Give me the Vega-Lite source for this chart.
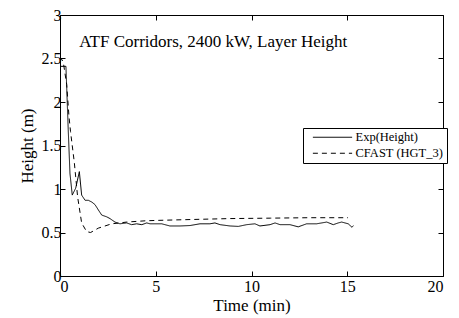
{
  "$schema": "https://vega.github.io/schema/vega-lite/v6.json",
  "autosize": {"type": "none"},
  "padding": {"left": 60, "top": 15, "right": 16, "bottom": 42},
  "width": 383,
  "height": 261,
  "background": "white",
  "config": {
    "view": {"stroke": "black", "strokeWidth": 1},
    "font": "Liberation Serif",
    "axis": {
      "domain": false,
      "grid": false,
      "ticks": true,
      "tickColor": "black",
      "tickSize": -5,
      "labelFont": "Liberation Serif",
      "labelFontSize": 16,
      "labelColor": "black",
      "labelExpr": "'' + datum.value",
      "titleFont": "Liberation Serif",
      "titleFontSize": 17,
      "titleFontWeight": "normal",
      "titleColor": "black"
    }
  },
  "datasets": {
    "exp": [
      {"t": 0, "h": 2.41}, {"t": 0.31, "h": 2.41}, {"t": 0.43, "h": 1.68}, {"t": 0.52, "h": 1.18},
      {"t": 0.64, "h": 0.93}, {"t": 0.82, "h": 1.01}, {"t": 1.01, "h": 1.2}, {"t": 1.13, "h": 0.93},
      {"t": 1.31, "h": 0.87}, {"t": 1.48, "h": 0.87}, {"t": 1.66, "h": 0.85}, {"t": 1.83, "h": 0.82},
      {"t": 2.0, "h": 0.76}, {"t": 2.18, "h": 0.7}, {"t": 2.44, "h": 0.68}, {"t": 2.61, "h": 0.66},
      {"t": 2.87, "h": 0.62}, {"t": 3.13, "h": 0.6}, {"t": 3.48, "h": 0.61}, {"t": 3.74, "h": 0.59},
      {"t": 4.0, "h": 0.6}, {"t": 4.27, "h": 0.59}, {"t": 4.53, "h": 0.61}, {"t": 4.7, "h": 0.6},
      {"t": 4.96, "h": 0.6}, {"t": 5.31, "h": 0.6}, {"t": 5.74, "h": 0.575}, {"t": 6.27, "h": 0.575},
      {"t": 6.79, "h": 0.58}, {"t": 7.31, "h": 0.6}, {"t": 7.83, "h": 0.6}, {"t": 8.09, "h": 0.61},
      {"t": 8.36, "h": 0.59}, {"t": 8.88, "h": 0.575}, {"t": 9.31, "h": 0.57}, {"t": 9.75, "h": 0.59},
      {"t": 10.18, "h": 0.6}, {"t": 10.44, "h": 0.575}, {"t": 10.97, "h": 0.59}, {"t": 11.23, "h": 0.61},
      {"t": 11.49, "h": 0.59}, {"t": 12.01, "h": 0.59}, {"t": 12.44, "h": 0.565}, {"t": 12.88, "h": 0.6},
      {"t": 13.4, "h": 0.6}, {"t": 13.93, "h": 0.62}, {"t": 14.27, "h": 0.59}, {"t": 14.53, "h": 0.61},
      {"t": 14.71, "h": 0.62}, {"t": 15.05, "h": 0.6}, {"t": 15.25, "h": 0.56}, {"t": 15.32, "h": 0.58}
    ],
    "cfast": [
      {"t": 0, "h": 2.52}, {"t": 0.17, "h": 2.46}, {"t": 0.35, "h": 2.2}, {"t": 0.47, "h": 1.83},
      {"t": 0.55, "h": 1.66}, {"t": 0.75, "h": 1.3}, {"t": 0.92, "h": 0.91}, {"t": 1.13, "h": 0.61},
      {"t": 1.39, "h": 0.51}, {"t": 1.6, "h": 0.5}, {"t": 2.0, "h": 0.55}, {"t": 2.7, "h": 0.6},
      {"t": 3.13, "h": 0.61}, {"t": 3.48, "h": 0.62}, {"t": 4.5, "h": 0.635}, {"t": 5.22, "h": 0.64},
      {"t": 7.0, "h": 0.65}, {"t": 8.88, "h": 0.66}, {"t": 11.0, "h": 0.665}, {"t": 13.0, "h": 0.67},
      {"t": 15.04, "h": 0.67}
    ],
    "note": [{"t": 1.0, "h": 2.69, "label": "ATF Corridors, 2400 kW, Layer Height"}]
  },
  "resolve": {"axis": {"x": "independent", "y": "independent"}},
  "layer": [
    {
      "data": {"name": "exp"},
      "transform": [{"calculate": "'Exp(Height)'", "as": "series"}],
      "mark": {"type": "line", "color": "black", "strokeWidth": 1, "clip": true},
      "encoding": {
        "x": {"field": "t", "type": "quantitative", "scale": {"domain": [0, 20], "nice": false},
              "axis": {"orient": "bottom", "title": "Time (min)", "values": [0, 5, 10, 15, 20], "labelPadding": 7, "titlePadding": 3}},
        "y": {"field": "h", "type": "quantitative", "scale": {"domain": [0, 3], "nice": false},
              "axis": {"orient": "left", "title": "Height (m)", "values": [0, 0.5, 1, 1.5, 2, 2.5, 3], "labelPadding": 4, "titlePadding": 5}},
        "strokeDash": {"field": "series", "type": "nominal",
          "scale": {"domain": ["Exp(Height)", "CFAST (HGT_3)"], "range": [[1, 0], [5, 4]]},
          "legend": {"orient": "none", "legendX": 243, "legendY": 113, "title": null,
            "fillColor": "white", "strokeColor": "black", "padding": 3,
            "symbolType": "M0.13,0H8.18", "symbolSize": 95, "symbolStrokeWidth": 1, "symbolStrokeColor": "black",
            "symbolFillColor": "transparent",
            "labelFont": "Liberation Serif", "labelFontSize": 12.5, "labelColor": "black", "labelOffset": 37,
            "rowPadding": 3, "labelLimit": 200}}
      }
    },
    {
      "data": {"name": "cfast"},
      "transform": [{"calculate": "'CFAST (HGT_3)'", "as": "series"}],
      "mark": {"type": "line", "color": "black", "strokeWidth": 1, "clip": true},
      "encoding": {
        "x": {"field": "t", "type": "quantitative",
              "axis": {"orient": "top", "title": null, "labels": false, "values": [0, 5, 10, 15, 20]}},
        "y": {"field": "h", "type": "quantitative",
              "axis": {"orient": "right", "title": null, "labels": false, "values": [0, 0.5, 1, 1.5, 2, 2.5, 3]}},
        "strokeDash": {"field": "series", "type": "nominal"}
      }
    },
    {
      "data": {"name": "note"},
      "mark": {"type": "text", "align": "left", "baseline": "middle", "font": "Liberation Serif", "fontSize": 17, "color": "black"},
      "encoding": {
        "x": {"field": "t", "type": "quantitative", "axis": null},
        "y": {"field": "h", "type": "quantitative", "axis": null},
        "text": {"field": "label"}
      }
    }
  ]
}
